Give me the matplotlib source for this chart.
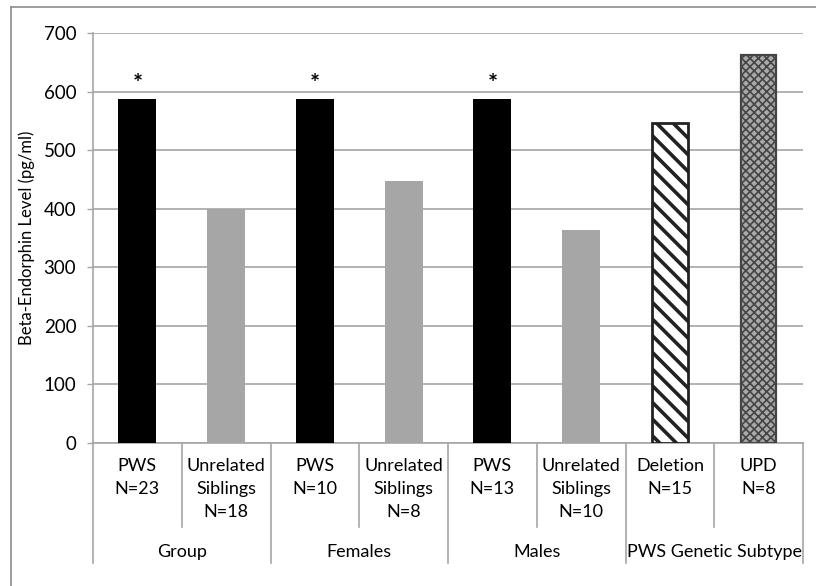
import matplotlib
matplotlib.use("Agg")
import matplotlib.pyplot as plt
from matplotlib.lines import Line2D

# ---- data ----
sub_labels = ["PWS\nN=23", "Unrelated\nSiblings\nN=18", "PWS\nN=10", "Unrelated\nSiblings\nN=8",
              "PWS\nN=13", "Unrelated\nSiblings\nN=10", "Deletion\nN=15", "UPD\nN=8"]
group_labels = ["Group", "Females", "Males", "PWS Genetic Subtype"]
values = [588, 400, 588, 448, 588, 363, 547, 662]
significant = [True, False, True, False, True, False, False, False]
y_ticks = [0, 100, 200, 300, 400, 500, 600, 700]

plt.rcParams['font.family'] = ['Lato', 'DejaVu Sans']

W, H = 816, 586
fig = plt.figure(figsize=(W / 100, H / 100), dpi=100)
x0, x1, y0, y1 = 93, 803, 443, 33
ax = fig.add_axes([x0 / W, 1 - y0 / H, (x1 - x0) / W, (y0 - y1) / H])

n = len(values)
xs = list(range(n))
grid_c = "#a6a6a6"
for i in range(n):
    if i < 6:
        ax.bar(xs[i], values[i], width=0.43, color="black" if i % 2 == 0 else "#a6a6a6", zorder=3)
    elif i == 6:
        b = ax.bar(xs[i], values[i], width=0.40, facecolor="white", edgecolor="#222222",
                   hatch="\\\\", linewidth=2.0, zorder=3)
        try:
            b[0].set_hatch_linewidth(2.6)
        except Exception:
            pass
    else:
        b = ax.bar(xs[i], values[i], width=0.40, facecolor="#a9a9a9", edgecolor="#454545",
                   hatch="xxxx", linewidth=1.6, zorder=3)
        try:
            b[0].set_hatch_linewidth(1.2)
        except Exception:
            pass

for i in range(n):
    if significant[i]:
        ax.annotate("*", (xs[i], values[i]), xytext=(0, 2), textcoords="offset points",
                    ha="center", va="bottom", fontsize=17, fontweight="bold")

ax.set_xlim(-0.5, n - 0.5)
ax.set_ylim(0, 700)
ax.set_yticks(y_ticks)
ax.set_yticklabels([str(t) for t in y_ticks], fontsize=13.5)
ax.tick_params(axis="y", length=4, width=1, color=grid_c, pad=8)
ax.set_xticks([])
ax.grid(axis="y", color=grid_c, linewidth=1.2, zorder=0)
ax.set_axisbelow(True)
for s in ["top", "right", "bottom"]:
    ax.spines[s].set_visible(False)
ax.spines["left"].set_color(grid_c)
ax.spines["left"].set_linewidth(1.2)
ax.set_ylabel("Beta-Endorphin Level (pg/ml)", fontsize=12, labelpad=6)

trans = ax.get_xaxis_transform()
def py(p):
    return (y0 - p) / (y0 - y1)

ax.add_line(Line2D([-0.5, n - 0.5], [0, 0], transform=trans, color=grid_c, lw=1.2, clip_on=False))
for k in range(n + 1):
    xb = k - 0.5
    bottom = 563 if k % 2 == 0 else 527
    ax.add_line(Line2D([xb, xb], [0, py(bottom)], transform=trans, color=grid_c, lw=1.2, clip_on=False))
for i in range(n):
    ax.text(xs[i], py(458), sub_labels[i], transform=trans, ha="center", va="top",
            fontsize=13, linespacing=1.55)
for g in range(len(group_labels)):
    ax.text(2 * g + 0.5, py(552), group_labels[g], transform=trans, ha="center", va="center",
            fontsize=13)

fig.add_artist(Line2D([11 / W, 11 / W], [0, 1 - 7 / H], color="#8c8c8c", lw=1.2))
fig.add_artist(Line2D([11 / W, 1], [1 - 7 / H, 1 - 7 / H], color="#8c8c8c", lw=1.2))

fig.savefig("out.png", dpi=100)
